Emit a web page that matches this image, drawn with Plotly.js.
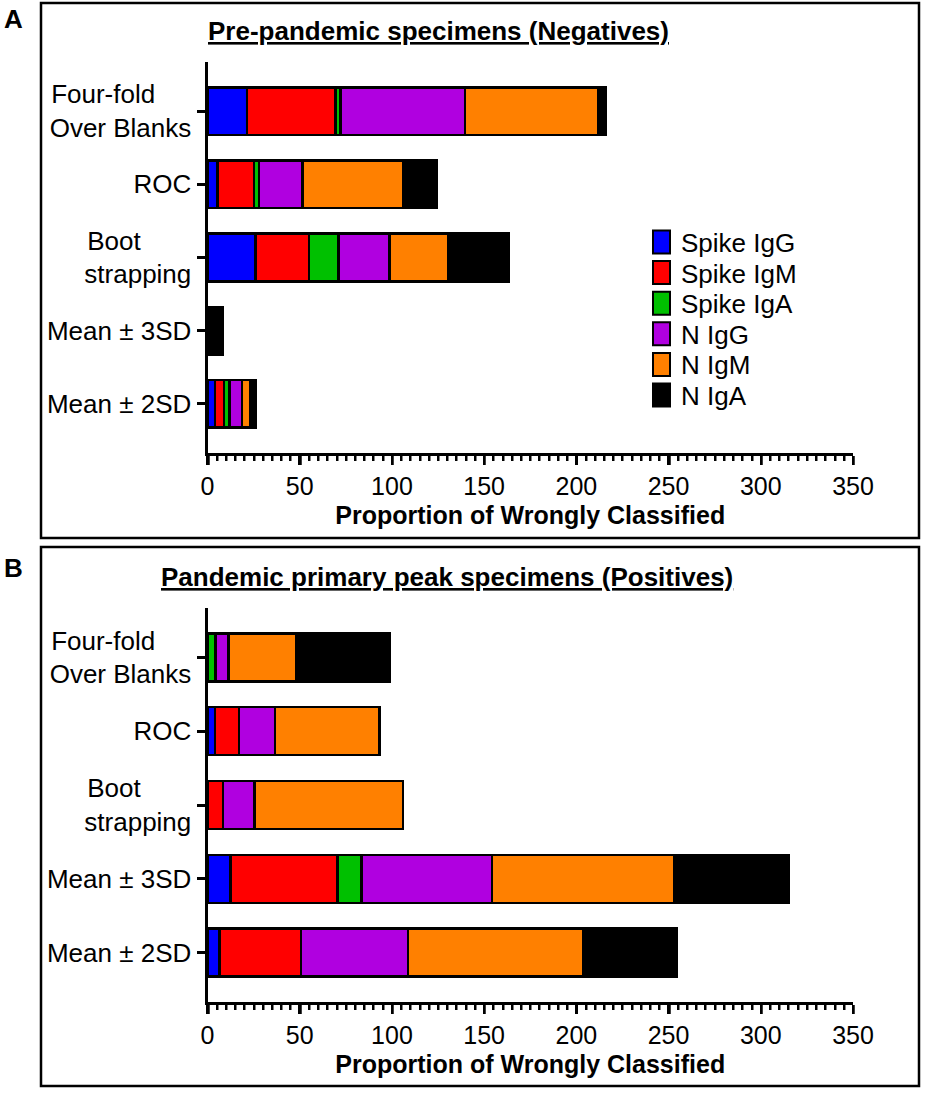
<!DOCTYPE html>
<html>
<head>
<meta charset="utf-8">
<script src="https://cdn.plot.ly/plotly-3.0.1.min.js"></script>
<style>
  html, body { margin: 0; padding: 0; background: #fff; }
  #chart { width: 929px; height: 1094px; }
</style>
</head>
<body>
<div id="chart"></div>
<script>
// categories, top to bottom
const categories = ['Four-fold Over Blanks', 'ROC', 'Boot strapping', 'Mean ± 3SD', 'Mean ± 2SD'];
const nb = n => '\u00a0'.repeat(n);
const categoryLabels = ['Four-fold' + nb(5) + '<br>Over Blanks', 'ROC', 'Boot' + nb(7) + '<br>strapping', 'Mean ± 3SD', 'Mean ± 2SD'];
const seriesNames = ['Spike IgG', 'Spike IgM', 'Spike IgA', 'N IgG', 'N IgM', 'N IgA'];
const seriesColors = ['#0000ff', '#ff0000', '#00c000', '#b000e0', '#ff8000', '#000000'];

// A: pre-pandemic specimens (negatives)
const spikeIgG_A = [21.5, 5.3, 26, 0, 4];
const spikeIgM_A = [48, 19.8, 29, 1, 4.9];
const spikeIgA_A = [2.7, 2.9, 16, 0, 2.9];
const nIgG_A = [67.4, 23.5, 27.7, 0, 7];
const nIgM_A = [72, 54.8, 32, 0, 4.5];
const nIgA_A = [4.4, 18, 32.8, 7.3, 2.7];

// B: pandemic primary peak specimens (positives)
const spikeIgG_B = [0, 4, 0, 12.4, 6.6];
const spikeIgM_B = [0, 13, 8.4, 58, 44.1];
const spikeIgA_B = [4.4, 0, 0, 13, 0];
const nIgG_B = [6.9, 19.7, 17.1, 70.8, 57.9];
const nIgM_B = [36.9, 56.6, 80.4, 99, 95.2];
const nIgA_B = [50.5, 0, 0, 61.8, 50.9];

const W = 929, H = 1094;
const px = v => v / W;
const py = v => 1 - v / H;
const FONT = 'Arial, "Liberation Sans", Helvetica, sans-serif';

const seriesA = [spikeIgG_A, spikeIgM_A, spikeIgA_A, nIgG_A, nIgM_A, nIgA_A];
const seriesB = [spikeIgG_B, spikeIgM_B, spikeIgA_B, nIgG_B, nIgM_B, nIgA_B];

const traces = [];
function addPanel(series, xa, ya) {
  series.forEach((vals, i) => {
    traces.push({
      type: 'bar',
      orientation: 'h',
      x: vals,
      y: categories,
      xaxis: xa,
      yaxis: ya,
      width: 0.65,
      name: seriesNames[i],
      showlegend: false,
      marker: { color: seriesColors[i], line: { color: '#000', width: 2.5 } },
      hoverinfo: 'skip'
    });
  });
}
addPanel(seriesA, 'x', 'y');
addPanel(seriesB, 'x2', 'y2');

// fresh objects for every axis (plotly writes into its inputs)
function makeXAxis(anchor) {
  return {
    domain: [px(207.5), px(853)],
    anchor: anchor,
    range: [0, 350],
    tickmode: 'linear',
    tick0: 0,
    dtick: 50,
    ticks: 'outside',
    ticklen: 9,
    tickwidth: 2.5,
    tickcolor: '#000',
    minor: { dtick: 5, ticks: 'outside', ticklen: 5, tickwidth: 2, tickcolor: '#000' },
    showline: true,
    linewidth: 3,
    linecolor: '#000',
    showgrid: false,
    zeroline: false,
    tickfont: { family: FONT, size: 25, color: '#000' },
    title: { text: '<b>Proportion of Wrongly Classified</b>', font: { family: FONT, size: 25, color: '#000' }, standoff: 8 }
  };
}
function makeYAxis(anchor, top, bottom) {
  return {
    domain: [py(bottom), py(top)],
    anchor: anchor,
    type: 'category',
    range: [4.67, -0.67],
    tickmode: 'array',
    tickvals: categories.slice(),
    ticktext: categoryLabels.slice(),
    ticks: 'outside',
    ticklen: 8,
    tickwidth: 3,
    tickcolor: '#000',
    showline: true,
    linewidth: 3,
    linecolor: '#000',
    showgrid: false,
    zeroline: false,
    tickfont: { family: FONT, size: 26, color: '#000' }
  };
}

// hand-placed legend (swatch + label) built from the series names/colours
const legendShapes = [], legendNotes = [];
seriesNames.forEach((name, i) => {
  const cy = 242 + i * 30.6;
  legendShapes.push({ type: 'rect', xref: 'paper', yref: 'paper', x0: px(653), x1: px(670), y0: py(cy + 11.5), y1: py(cy - 11.5), fillcolor: seriesColors[i], line: { color: '#000', width: 2 } });
  legendNotes.push({ text: name, xref: 'paper', yref: 'paper', x: px(679), y: py(cy + 1), xanchor: 'left', yanchor: 'middle', showarrow: false, font: { family: FONT, size: 26, color: '#000' } });
});

const layout = {
  width: W,
  height: H,
  margin: { l: 0, r: 0, t: 0, b: 0 },
  barmode: 'stack',
  showlegend: false,
  xaxis: makeXAxis('y'),
  yaxis: makeYAxis('x', 62, 453),
  xaxis2: makeXAxis('y2'),
  yaxis2: makeYAxis('x2', 608, 1002),
  shapes: [
    { type: 'rect', layer: 'below', xref: 'paper', yref: 'paper', x0: px(41), x1: px(919), y0: py(538), y1: py(3), fillcolor: 'rgba(0,0,0,0)', line: { color: '#000', width: 2.5 } },
    { type: 'rect', layer: 'below', xref: 'paper', yref: 'paper', x0: px(41), x1: px(919), y0: py(1086), y1: py(547), fillcolor: 'rgba(0,0,0,0)', line: { color: '#000', width: 2.5 } }
  ].concat(legendShapes),
  annotations: [
    { text: '<b>A</b>', xref: 'paper', yref: 'paper', x: px(13), y: py(19), xanchor: 'center', yanchor: 'middle', showarrow: false, font: { family: FONT, size: 26, color: '#000' } },
    { text: '<b>B</b>', xref: 'paper', yref: 'paper', x: px(13), y: py(568), xanchor: 'center', yanchor: 'middle', showarrow: false, font: { family: FONT, size: 26, color: '#000' } },
    { text: '<b><u>Pre-pandemic specimens (Negatives)</u></b>', xref: 'paper', yref: 'paper', x: px(438), y: py(31), xanchor: 'center', yanchor: 'middle', showarrow: false, font: { family: FONT, size: 26, color: '#000' } },
    { text: '<b><u>Pandemic primary peak specimens (Positives)</u></b>', xref: 'paper', yref: 'paper', x: px(447), y: py(577), xanchor: 'center', yanchor: 'middle', showarrow: false, font: { family: FONT, size: 26, color: '#000' } }
  ].concat(legendNotes)
};

Plotly.newPlot('chart', traces, layout, { displayModeBar: false, staticPlot: true }).then(gd => {
  // the x tick marks do not show up in this two-panel figure, so redraw them
  // on the top svg layer from each axis's own scale and tick settings
  const NS = 'http://www.w3.org/2000/svg';
  const svgs = gd.querySelectorAll('svg.main-svg');
  const topSvg = svgs[svgs.length - 1];
  const g = document.createElementNS(NS, 'g');
  topSvg.appendChild(g);
  ['xaxis', 'xaxis2'].forEach(name => {
    const ax = gd._fullLayout[name];
    const y0 = ax._mainLinePosition + ax.linewidth / 2;
    const addTick = (v, len, w) => {
      const x = Math.round(ax._offset + ax.l2p(v)) + 0.5;
      const p = document.createElementNS(NS, 'path');
      p.setAttribute('d', 'M' + x + ',' + y0 + 'v' + len);
      p.setAttribute('stroke', ax.tickcolor);
      p.setAttribute('stroke-width', w);
      g.appendChild(p);
    };
    for (let v = ax.range[0]; v <= ax.range[1] + 1e-9; v += ax.minor.dtick) {
      if (Math.abs(v % ax.dtick) > 1e-9) addTick(v, ax.minor.ticklen, ax.minor.tickwidth);
    }
    for (let v = ax.tick0; v <= ax.range[1] + 1e-9; v += ax.dtick) addTick(v, ax.ticklen, ax.tickwidth);
  });
});
</script>
</body>
</html>
